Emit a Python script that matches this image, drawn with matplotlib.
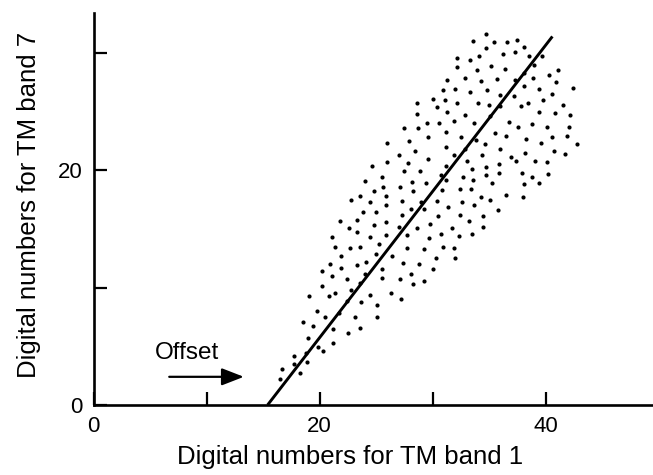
import matplotlib.pyplot as plt

plt.rcParams['font.family'] = ['Liberation Sans', 'DejaVu Sans']

# scatter of pixel values: TM band 1 (x) against TM band 7 (y)
band1 = [
    34.7, 33.6, 35.4, 36.6, 37.5, 34.7, 38.1, 36.2, 37.3, 32.2, 33.3, 34.1, 38.5, 39.7,
    32.2, 33.9, 35.2, 36.4, 39.0, 31.3, 32.9, 34.3, 35.7, 37.3, 38.1, 38.9, 40.3, 41.1,
    30.9, 32.0, 33.3, 34.8, 36.0, 37.2, 38.1, 39.4, 40.9, 42.4, 30.0, 31.1, 32.2, 34.0,
    35.0, 36.0, 37.8, 38.4, 39.8, 40.6, 28.6, 30.4, 31.3, 32.9, 35.1, 39.4, 40.8, 41.5,
    42.2, 28.6, 29.5, 30.6, 31.9, 33.7, 36.8, 37.6, 38.8, 40.1, 42.1, 27.5, 28.7, 31.2,
    32.5, 33.8, 35.5, 36.5, 38.3, 39.6, 40.6, 41.9, 42.8, 26.0, 27.9, 29.6, 31.2, 32.9,
    34.6, 36.0, 36.9, 38.2, 40.7, 41.7, 27.0, 28.4, 31.9, 33.0, 34.4, 37.4, 39.1, 40.1,
    26.0, 27.8, 29.6, 31.2, 33.5, 34.7, 35.9, 24.6, 27.5, 28.9, 30.7, 32.7, 33.6, 34.7,
    35.9, 37.9, 38.8, 40.2, 24.0, 25.5, 28.2, 29.4, 31.2, 35.3, 38.1, 39.4, 24.8, 25.6,
    27.1, 28.3, 30.8, 32.4, 33.4, 34.3, 35.1, 36.5, 38.0, 22.8, 23.6, 24.5, 25.9, 27.3,
    29.0, 30.4, 31.4, 32.6, 33.7, 35.8, 23.8, 25.0, 25.9, 27.3, 28.1, 29.2, 30.5, 32.4,
    33.2, 34.5, 21.8, 23.3, 24.8, 25.9, 27.0, 28.6, 29.8, 31.7, 33.5, 34.5, 22.6, 23.3,
    21.1, 24.5, 25.9, 27.7, 29.7, 30.7, 32.3,
    21.4, 22.7, 23.6, 25.3, 27.7, 29.2, 30.9, 31.9, 32.0, 21.9, 25.0, 26.4, 30.3, 20.9,
    23.3, 24.1, 27.4, 28.8, 30.0, 20.2, 21.9, 21.1, 24.0, 25.5, 28.1, 29.2, 28.3, 20.2,
    22.4, 23.6, 25.5, 27.1, 19.1, 20.8, 21.4, 22.8, 22.4, 23.7, 24.5, 26.3, 27.2, 25.1,
    19.8, 20.5, 21.7, 23.1, 25.1, 18.5, 19.4, 21.2, 22.5, 23.6, 19.0, 21.2, 19.9, 20.3,
    17.7, 18.8, 18.9, 17.7, 16.7, 18.3, 16.5,
]
band7 = [
    31.6, 31.0, 30.9, 30.9, 31.1, 30.4, 30.5, 29.9, 30.1, 29.6, 29.4, 29.7, 29.7, 29.7,
    28.8, 28.5, 28.9, 28.6, 29.0, 27.7, 27.9, 27.6, 27.8, 27.7, 28.3, 27.9, 28.1, 28.5,
    26.8, 26.9, 26.7, 26.8, 26.4, 26.3, 27.2, 26.9, 27.5, 27.0, 26.1, 26.0, 25.7, 25.7,
    25.6, 25.5, 25.5, 25.7, 26.0, 26.5, 25.7, 25.4, 25.0, 24.7, 24.6, 25.0, 24.9, 25.6,
    24.7, 24.8, 24.0, 24.0, 24.2, 24.0, 24.1, 23.7, 23.9, 23.7, 23.7, 23.6, 23.6, 23.3,
    22.8, 22.6, 23.2, 22.9, 22.7, 22.3, 22.8, 22.9, 22.2, 22.3, 22.5, 22.8, 22.0, 21.8,
    22.2, 21.8, 21.1, 21.5, 21.6, 21.4, 21.3, 21.6, 21.3, 20.8, 21.3, 20.8, 20.8, 20.7,
    20.7, 20.6, 21.0, 20.4, 20.1, 20.3, 20.5, 20.4, 19.9, 19.9, 19.6, 19.4, 19.2, 19.6,
    19.8, 19.8, 19.4, 19.7, 19.1, 19.4, 19.0, 18.9, 19.2, 18.9, 18.8, 18.9, 18.2, 18.6,
    18.6, 18.2, 18.3, 18.4, 18.4, 17.7, 17.5, 17.9, 17.7, 17.5, 17.8, 17.3, 17.8, 17.4,
    17.3, 17.4, 16.9, 17.3, 17.0, 16.6, 16.4, 16.4, 17.0, 16.2, 16.7, 16.7, 16.1, 16.2,
    15.7, 16.1, 15.7, 15.8, 15.3, 15.6, 15.2, 15.1, 15.4, 15.1, 14.6, 15.2, 15.1, 14.7,
    14.3, 14.3, 14.5, 14.5, 14.2, 14.6, 14.4,
    13.5, 13.4, 13.5, 13.7, 13.4, 13.3, 13.5, 13.4, 12.5, 12.7, 12.9, 12.7, 12.5, 12.0,
    11.9, 12.2, 12.1, 12.0, 11.6, 11.4, 11.7, 11.0, 11.2, 11.6, 11.2, 10.6, 10.3, 10.1,
    10.7, 10.4, 10.8, 10.7, 9.3, 9.3, 9.5, 9.8, 8.9, 8.8, 9.4, 9.5, 9.0, 8.5,
    8.0, 7.5, 7.8, 7.5, 7.5, 7.1, 6.7, 6.5, 6.1, 6.6, 5.7, 5.3, 4.9, 4.6,
    4.2, 4.4, 3.7, 3.5, 3.1, 2.7, 2.2,
]

# fitted line, crossing the band 1 axis at the offset
line_x = [15.4, 40.6]
line_y = [0.0, 31.4]

xticks = [0, 10, 20, 30, 40]
xtick_labels = ['0', '', '20', '', '40']
yticks = [0, 10, 20, 30]
ytick_labels = ['0', '', '20', '']

fig = plt.figure(figsize=(6.53, 4.75), dpi=100)
ax = fig.add_axes([0.1432, 0.1474, 0.8568, 0.8253])

ax.scatter(band1, band7, s=9, color='black', linewidths=0, zorder=2)
ax.plot(line_x, line_y, color='black', linewidth=2.1, solid_capstyle='butt', zorder=3)

ax.annotate('', xy=(13.3, 2.4), xytext=(6.7, 2.4),
            arrowprops=dict(arrowstyle='-|>,head_length=0.9,head_width=0.35',
                            mutation_scale=15, color='black', linewidth=1.6,
                            shrinkA=0, shrinkB=0))
ax.text(8.3, 4.4, 'Offset', fontsize=17.5, ha='center', va='center')

ax.set_xlim(0, 49.5)
ax.set_ylim(0, 33.4)
ax.set_xticks(xticks)
ax.set_xticklabels(xtick_labels)
ax.set_yticks(yticks)
ax.set_yticklabels(ytick_labels)
ax.tick_params(direction='in', length=9.5, width=1.6, labelsize=16, pad=8)

for side in ['top', 'right']:
    ax.spines[side].set_visible(False)
for side in ['left', 'bottom']:
    ax.spines[side].set_linewidth(1.9)

fig.text(350 / 653, 1 - 457 / 475, 'Digital numbers for TM band 1',
         fontsize=18.5, ha='center', va='center')
fig.text(29 / 653, 1 - 205 / 475, 'Digital numbers for TM band 7',
         fontsize=18.5, ha='center', va='center', rotation=90)

fig.savefig('out.png', dpi=100)
